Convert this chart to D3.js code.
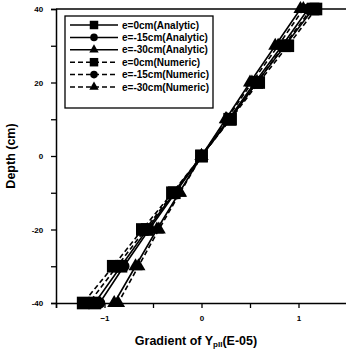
<!DOCTYPE html>
<html lang="en">
<head>
<meta charset="UTF-8">
<title>Gradient vs depth</title>
<script src="https://cdn.jsdelivr.net/npm/d3@7"></script>
<style>
body{margin:0;background:#fff;}
text{font-family:Arial,"Liberation Sans",sans-serif;font-weight:bold;fill:#000;}
</style>
</head>
<body>
<script>
// depth (cm) where the markers sit
var depths = [40, 30, 20, 10, 0, -10, -20, -30, -40];
// gradient of Y (E-05)
var e0Analytic  = [1.15, 0.86, 0.57, 0.29, 0, -0.28, -0.56, -0.83, -1.10];
var e15Analytic = [1.10, 0.83, 0.55, 0.28, 0, -0.27, -0.54, -0.80, -1.05];
var e30Analytic = [1.02, 0.76, 0.50, 0.25, 0, -0.23, -0.46, -0.68, -0.90];
var e0Numeric   = [1.18, 0.89, 0.59, 0.30, 0, -0.30, -0.61, -0.91, -1.22];
var e15Numeric  = [1.13, 0.85, 0.57, 0.29, 0, -0.29, -0.58, -0.87, -1.16];
var e30Numeric  = [1.05, 0.79, 0.52, 0.26, 0, -0.22, -0.44, -0.65, -0.86];
var seriesNames = ["e=0cm(Analytic)", "e=-15cm(Analytic)", "e=-30cm(Analytic)",
                   "e=0cm(Numeric)", "e=-15cm(Numeric)", "e=-30cm(Numeric)"];
var xTicks = [-1.5, -1, -0.5, 0, 0.5, 1, 1.5];
var xLabels = [-1, 0, 1];
var yTicks = [40, 30, 20, 10, 0, -10, -20, -30, -40];
var yLabels = [40, 20, 0, -20, -40];

var W = 346, H = 359;
var L = 56, R = 347, T = 9, B = 303;
var svg = d3.select("body").append("svg").attr("width", W).attr("height", H);

var x = d3.scaleLinear().domain([-1.5, 1.5]).range([L, R]);
var y = d3.scaleLinear().domain([-40, 40]).range([B, T]);

var series = [
  {vals: e0Analytic, sym: d3.symbolSquare, dash: null},
  {vals: e15Analytic, sym: d3.symbolCircle, dash: null},
  {vals: e30Analytic, sym: d3.symbolTriangle, dash: null},
  {vals: e0Numeric, sym: d3.symbolSquare, dash: "5,3"},
  {vals: e15Numeric, sym: d3.symbolCircle, dash: "5,3"},
  {vals: e30Numeric, sym: d3.symbolTriangle, dash: "5,3"}
];
function symSz(s){ return s === d3.symbolSquare ? 160 : (s === d3.symbolCircle ? 100 : 85); }

// axes
svg.append("g").attr("transform", "translate(0," + B + ")")
  .call(d3.axisBottom(x).tickValues(xTicks).tickSize(5)
    .tickFormat(function(d){ return xLabels.indexOf(d) >= 0 ? d3.format("d")(d) : ""; }))
  .call(function(g){
    g.select(".domain").attr("stroke-width", 1.5);
    g.selectAll(".tick line").attr("stroke-width", 1.3);
    g.selectAll("text").attr("font-size", 8).attr("dy", "1.3em");
  });
svg.append("g").attr("transform", "translate(" + L + ",0)")
  .call(d3.axisLeft(y).tickValues(yTicks).tickSize(5)
    .tickFormat(function(d){ return yLabels.indexOf(d) >= 0 ? d : ""; }))
  .call(function(g){
    g.select(".domain").attr("stroke-width", 1.5);
    g.selectAll(".tick line").attr("stroke-width", 1.3);
    g.selectAll("text").attr("font-size", 8).attr("dx", "-0.6em");
  });
svg.append("line").attr("x1", L).attr("x2", R).attr("y1", T).attr("y2", T)
  .attr("stroke", "#000").attr("stroke-width", 1.3);

// lines and markers
var line = d3.line().x(function(d){ return x(d[0]); }).y(function(d){ return y(d[1]); });
series.forEach(function(s){
  var pts = s.vals.map(function(v, i){ return [v, depths[i]]; });
  svg.append("path").attr("d", line(pts)).attr("fill", "none")
    .attr("stroke", "#000").attr("stroke-width", 1.6)
    .attr("stroke-dasharray", s.dash);
  svg.selectAll(null).data(pts).enter().append("path")
    .attr("d", d3.symbol().type(s.sym).size(symSz(s.sym)))
    .attr("transform", function(d){ return "translate(" + x(d[0]) + "," + y(d[1]) + ")"; })
    .attr("fill", "#000");
});

// legend
var lg = svg.append("g");
lg.append("rect").attr("x", 65).attr("y", 16).attr("width", 148).attr("height", 92)
  .attr("fill", "#fff").attr("stroke", "#000").attr("stroke-width", 1.3);
series.forEach(function(s, i){
  var ly = 25 + i * 12.4;
  lg.append("line").attr("x1", 70).attr("x2", 118).attr("y1", ly).attr("y2", ly)
    .attr("stroke", "#000").attr("stroke-width", 1.5).attr("stroke-dasharray", s.dash);
  lg.append("path").attr("d", d3.symbol().type(s.sym).size(symSz(s.sym) * 0.45))
    .attr("transform", "translate(94," + ly + ")").attr("fill", "#000");
  lg.append("text").attr("x", 122).attr("y", ly).attr("dy", "0.35em")
    .attr("font-size", 10).attr("font-weight", "normal").text(seriesNames[i]);
});

// axis titles
var xt = svg.append("text").attr("x", 196).attr("y", 345).attr("text-anchor", "middle")
  .attr("font-size", 12.5);
xt.append("tspan").text("Gradient of Y");
xt.append("tspan").attr("font-size", 8).attr("dy", 2).text("pII");
xt.append("tspan").attr("dy", -2).text("(E-05)");
svg.append("text").attr("transform", "translate(15,156) rotate(-90)")
  .attr("text-anchor", "middle").attr("font-size", 12.5).text("Depth (cm)");
</script>
</body>
</html>
